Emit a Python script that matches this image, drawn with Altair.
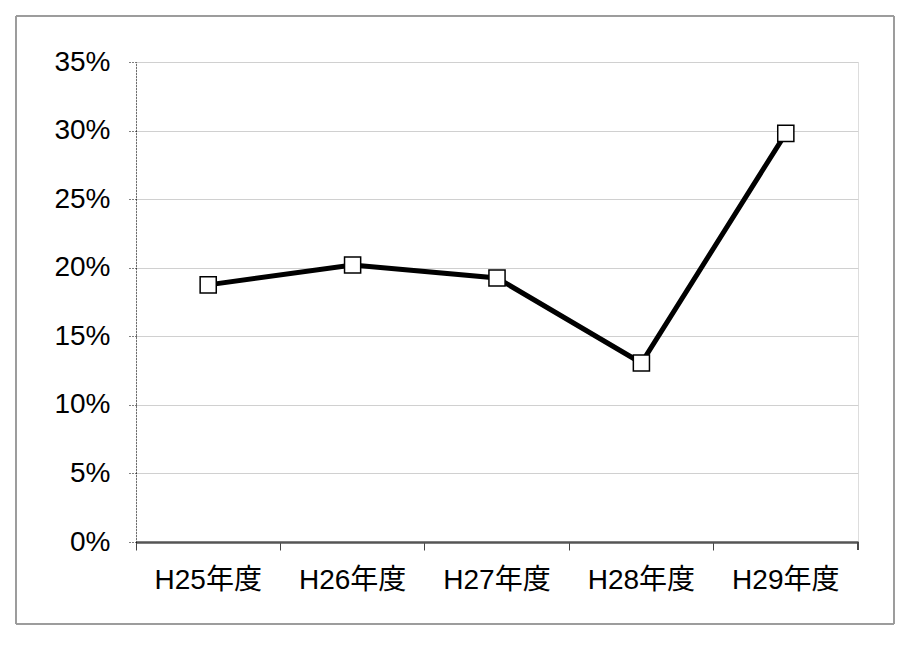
import altair as alt
import pandas as pd

categories = ["H25年度", "H26年度", "H27年度", "H28年度", "H29年度"]
values = [0.1875, 0.202, 0.1925, 0.1305, 0.298]
y_ticks = [0, 0.05, 0.10, 0.15, 0.20, 0.25, 0.30, 0.35]

df = pd.DataFrame({"cat": categories, "val": values})
FONT = "Liberation Sans, Arial, Noto Sans CJK JP"
W, H = 722, 480

x = alt.X("cat:N", sort=categories, title=None,
          scale=alt.Scale(type="band", paddingInner=0, paddingOuter=0),
          axis=alt.Axis(labelAngle=0, labelFont=FONT, labelFontSize=28, labelColor="#000",
                        labelPadding=16, bandPosition=0, tickSize=8, tickColor="#444",
                        tickWidth=1, domainColor="#555", domainWidth=2.5, grid=False))
y = alt.Y("val:Q", title=None,
          scale=alt.Scale(domain=[0, 0.35], nice=False),
          axis=alt.Axis(values=y_ticks, format=".0%", labelFont=FONT, labelFontSize=28,
                        labelColor="#000", labelPadding=18, tickSize=8, tickColor="#000",
                        tickDash=[1, 2], tickWidth=1, domainColor="#000", domainDash=[1, 2],
                        domainWidth=1, grid=True, gridColor="#d0d0d0", gridWidth=1))

line = alt.Chart(df).mark_line(color="#000", strokeWidth=5).encode(x=x, y=y)
pts = alt.Chart(df).mark_point(shape="square", filled=True, fill="#fff", stroke="#000",
                               strokeWidth=1.5, size=260, opacity=1).encode(x=x, y=y)
end_tick = alt.Chart(df).mark_rule(color="#444", strokeWidth=1).encode(
    x=alt.value(W), y=alt.value(H), y2=alt.value(H + 8))
border = alt.Chart(df).mark_rect(fill=None, stroke="#999", strokeWidth=1, clip=False).encode(
    x=alt.value(-120), x2=alt.value(758), y=alt.value(-46), y2=alt.value(562))

chart = alt.layer(border, line, pts, end_tick).properties(
    width=W, height=H,
    autosize=alt.AutoSizeParams(type="none"),
    padding={"left": 128, "top": 54, "right": 40, "bottom": 90},
).configure_view(stroke=None).configure(background="#fff")

chart.save("out.html", embed_options={"renderer": "svg", "actions": False})
